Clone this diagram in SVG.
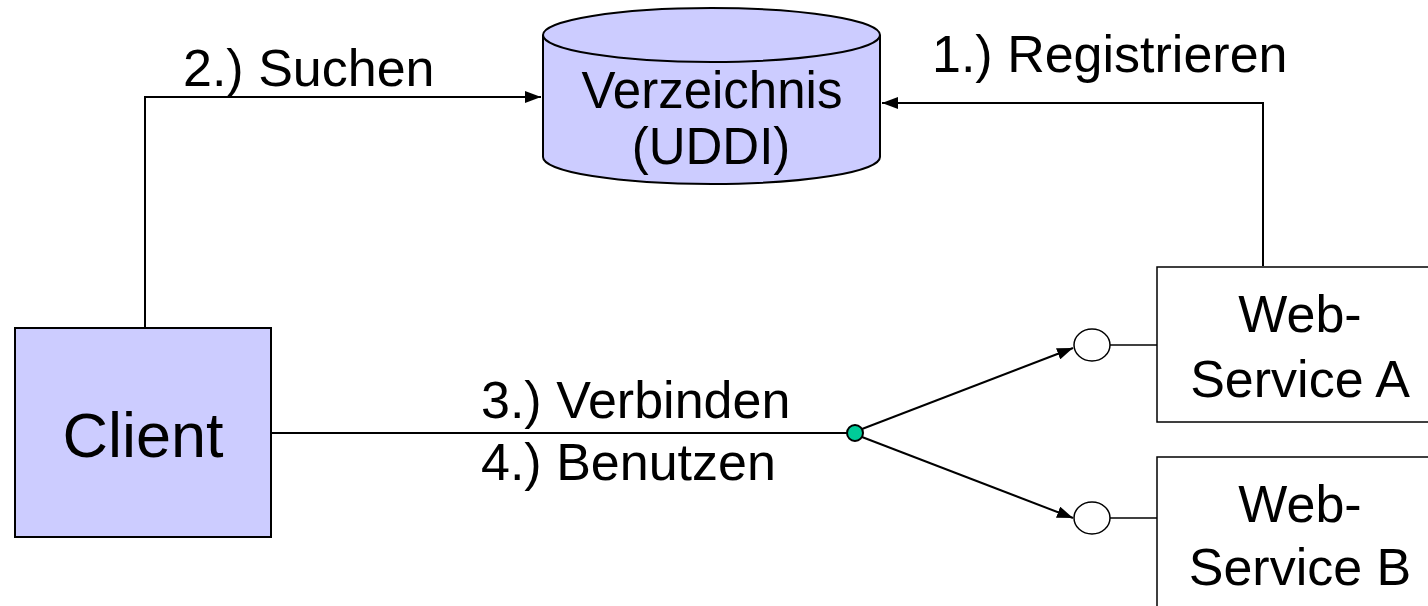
<svg xmlns="http://www.w3.org/2000/svg" width="1428" height="606" viewBox="0 0 1428 606">
  <style>
    .box { fill: #CCCCFF; stroke: #000; stroke-width: 2; }
    .plain { fill: #FFFFFF; stroke: #000; stroke-width: 1.5; }
    .edge { fill: none; stroke: #000; stroke-width: 2; }
    .thin { fill: none; stroke: #000; stroke-width: 1.5; }
    text { font-family: "Liberation Sans", Arial, sans-serif; font-size: 52px; fill: #000; }
    .mid { text-anchor: middle; }
  </style>
  <defs>
    <marker id="arrow" viewBox="0 0 16 12" refX="16" refY="6" markerWidth="16" markerHeight="12" markerUnits="userSpaceOnUse" orient="auto">
      <path d="M0,0 L16,6 L0,12 Z" fill="#000"/>
    </marker>
  </defs>

  <!-- connectors -->
  <g id="connectors">
    <polyline class="edge" points="145,328 145,97 541,97" marker-end="url(#arrow)"/>
    <polyline class="edge" points="1263,266 1263,103 882,103" marker-end="url(#arrow)"/>
    <line class="edge" x1="271" y1="433" x2="847" y2="433"/>
    <line class="edge" x1="862" y1="429" x2="1073" y2="348" marker-end="url(#arrow)"/>
    <line class="edge" x1="862" y1="437" x2="1073" y2="518" marker-end="url(#arrow)"/>
    <line class="thin" x1="1110" y1="345" x2="1157" y2="345"/>
    <line class="thin" x1="1110" y1="518" x2="1157" y2="518"/>
  </g>

  <!-- directory (cylinder) -->
  <g id="directory">
    <path class="box" d="M543,35 L543,157 A168.5,27 0 0 0 880,157 L880,35"/>
    <ellipse class="box" cx="711.5" cy="35" rx="168.5" ry="27"/>
    <text class="mid" x="712" y="108" style="font-size:51px">Verzeichnis</text>
    <text class="mid" x="711" y="164" style="font-size:51px">(UDDI)</text>
  </g>

  <!-- client -->
  <g id="client">
    <rect class="box" x="15" y="328" width="256" height="209"/>
    <text class="mid" x="143" y="457" style="font-size:63px">Client</text>
  </g>

  <!-- junction -->
  <g id="junction">
    <circle cx="855" cy="433" r="8" fill="#00CC99" stroke="#000" stroke-width="2"/>
  </g>

  <!-- web service A -->
  <g id="service-a">
    <ellipse class="plain" cx="1092" cy="345" rx="18" ry="16"/>
    <rect class="plain" x="1157" y="267" width="280" height="155"/>
    <text class="mid" x="1300" y="332">Web-</text>
    <text class="mid" x="1300" y="397">Service A</text>
  </g>

  <!-- web service B -->
  <g id="service-b">
    <ellipse class="plain" cx="1092" cy="518" rx="18" ry="16"/>
    <rect class="plain" x="1157" y="457" width="280" height="160"/>
    <text class="mid" x="1300" y="522">Web-</text>
    <text class="mid" x="1300" y="585">Service B</text>
  </g>

  <!-- step labels -->
  <g id="labels">
    <text x="183" y="86">2.) Suchen</text>
    <text x="932" y="72">1.) Registrieren</text>
    <text x="481" y="418">3.) Verbinden</text>
    <text x="481" y="480">4.) Benutzen</text>
  </g>
</svg>
